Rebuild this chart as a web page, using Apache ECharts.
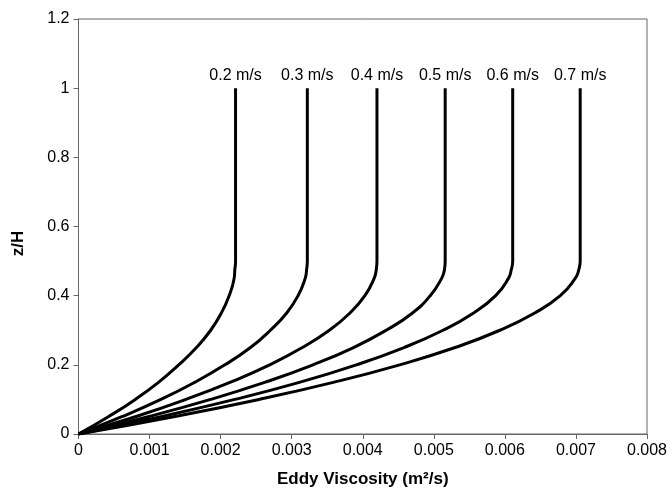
<!DOCTYPE html>
<html>
<head>
<meta charset="utf-8">
<script src="https://cdn.jsdelivr.net/npm/echarts@6/dist/echarts.min.js"></script>
<style>html,body{margin:0;padding:0;background:#fff}#c{width:672px;height:495px}</style>
</head>
<body>
<div id="c"></div>
<script>
// z/H levels shared by all curves
var zLevels = [0, 0.05, 0.1, 0.15, 0.2, 0.25, 0.3, 0.35, 0.4, 0.45, 0.475, 0.5, 1.0];
var speedLabels = ['0.2 m/s', '0.3 m/s', '0.4 m/s', '0.5 m/s', '0.6 m/s', '0.7 m/s'];
// eddy viscosity (m^2/s) at each z/H level
var visc02 = [0, 0.00042, 0.00080, 0.00113, 0.00141, 0.00166, 0.00186, 0.00201, 0.00212, 0.00219, 0.00220, 0.00221, 0.00221];
var visc03 = [0, 0.00061, 0.00116, 0.00164, 0.00206, 0.00242, 0.00270, 0.00293, 0.00309, 0.00319, 0.00321, 0.00322, 0.00322];
var visc04 = [0, 0.00080, 0.00151, 0.00214, 0.00269, 0.00315, 0.00353, 0.00382, 0.00403, 0.00416, 0.00419, 0.00420, 0.00420];
var visc05 = [0, 0.00098, 0.00186, 0.00263, 0.00330, 0.00387, 0.00433, 0.00470, 0.00495, 0.00511, 0.00515, 0.00516, 0.00516];
var visc06 = [0, 0.00116, 0.00220, 0.00312, 0.00391, 0.00458, 0.00513, 0.00556, 0.00587, 0.00605, 0.00609, 0.00611, 0.00611];
var visc07 = [0, 0.00134, 0.00254, 0.00360, 0.00452, 0.00530, 0.00593, 0.00642, 0.00678, 0.00699, 0.00704, 0.00706, 0.00706];
var xTicks = ['0', '0.001', '0.002', '0.003', '0.004', '0.005', '0.006', '0.007', '0.008'];
var yTicks = ['0', '0.2', '0.4', '0.6', '0.8', '1', '1.2'];

var allVisc = [visc02, visc03, visc04, visc05, visc06, visc07];
var FONT = 'Liberation Sans, Arial, sans-serif';

var series = allVisc.map(function (v, i) {
  return {
    name: speedLabels[i],
    type: 'line',
    showSymbol: false,
    symbol: 'none',
    smooth: 0.5,
    lineStyle: { color: '#000', width: 3 },
    endLabel: {
      show: true, formatter: speedLabels[i], color: '#000',
      fontFamily: FONT, fontSize: 16,
      distance: 0, align: 'center', verticalAlign: 'bottom', offset: [0, -5]
    },
    data: v.map(function (x, k) { return [x, zLevels[k]]; }),
    emphasis: { disabled: true },
    animation: false
  };
});

var chart = echarts.init(document.getElementById('c'), null, { renderer: 'canvas' });
chart.setOption({
  animation: false,
  backgroundColor: '#fff',
  grid: { left: 78.5, right: 25, top: 19, bottom: 61, show: true, borderColor: '#666', borderWidth: 1, backgroundColor: 'transparent' },
  xAxis: {
    type: 'value', min: 0, max: 0.008, interval: 0.001,
    name: 'Eddy Viscosity (m²/s)', nameLocation: 'middle', nameGap: 37,
    nameTextStyle: { fontFamily: FONT, fontSize: 17, fontWeight: 'bold', color: '#000' },
    axisLine: { show: true, lineStyle: { color: '#666', width: 1 } },
    axisTick: { show: true, length: 5, lineStyle: { color: '#666' } },
    axisLabel: { fontFamily: FONT, fontSize: 16, color: '#000', margin: 9,
      formatter: function (val) { return xTicks[Math.round(val * 1000)]; } },
    splitLine: { show: false }
  },
  yAxis: {
    type: 'value', min: 0, max: 1.2, interval: 0.2,
    name: 'z/H', nameLocation: 'middle', nameGap: 52, nameRotate: 90,
    nameTextStyle: { fontFamily: FONT, fontSize: 17, fontWeight: 'bold', color: '#000', padding: [0, 34, 0, 0] },
    axisLine: { show: true, lineStyle: { color: '#666', width: 1 } },
    axisTick: { show: true, length: 5, lineStyle: { color: '#666' } },
    axisLabel: { fontFamily: FONT, fontSize: 16, color: '#000', margin: 9,
      formatter: function (val) { return yTicks[Math.round(val * 5)]; } },
    splitLine: { show: false }
  },
  series: series
});
</script>
</body>
</html>
